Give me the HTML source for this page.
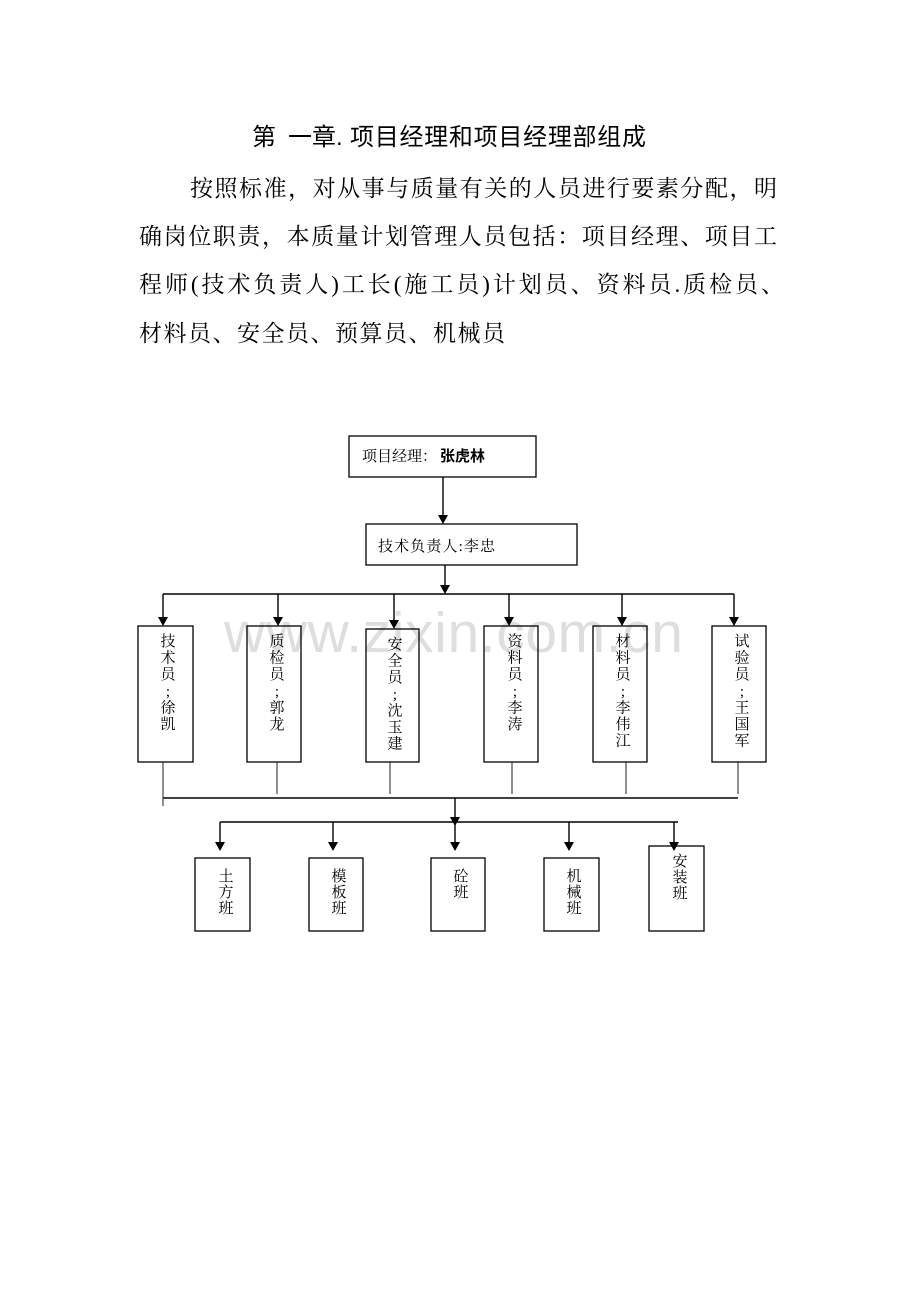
<!DOCTYPE html>
<html>
<head>
<meta charset="utf-8">
<style>
  html, body { margin: 0; padding: 0; background: #fff; }
  body { width: 920px; height: 1302px; overflow: hidden; }
  svg { display: block; }
  .serif { font-family: "Liberation Serif", "Noto Serif CJK SC", serif; }
  .sans { font-family: "Liberation Sans", "Noto Sans CJK SC", sans-serif; }
</style>
</head>
<body>
<svg width="920" height="1302" viewBox="0 0 920 1302" xmlns="http://www.w3.org/2000/svg">
  <rect x="0" y="0" width="920" height="1302" fill="#fff"/>

  <!-- Title -->
  <g class="sans" font-size="24" font-weight="400" fill="#000">
    <text x="252" y="145">第</text>
    <text x="288" y="145">一章.</text>
    <text x="350" y="145" textLength="296" lengthAdjust="spacing">项目经理和项目经理部组成</text>
  </g>

  <!-- Paragraph -->
  <g class="serif" font-size="23" fill="#000">
    <text x="190" y="196" textLength="587" lengthAdjust="spacing">按照标准，对从事与质量有关的人员进行要素分配，明</text>
    <text x="139" y="244" textLength="638" lengthAdjust="spacing">确岗位职责，本质量计划管理人员包括：项目经理、项目工</text>
    <text x="139" y="292" textLength="645" lengthAdjust="spacing">程师(技术负责人)工长(施工员)计划员、资料员.质检员、</text>
    <text x="139" y="341" textLength="366" lengthAdjust="spacing">材料员、安全员、预算员、机械员</text>
  </g>

  <!-- Watermark -->
  <text x="224" y="652" font-family="Liberation Sans, sans-serif" font-size="57" fill="#dedede" textLength="459" lengthAdjust="spacing">www.zixin.com.cn</text>

  <!-- Boxes -->
  <g fill="none" stroke="#000" stroke-width="1.3">
    <rect x="349" y="436" width="187" height="41"/>
    <rect x="366" y="524" width="211" height="41"/>

    <rect x="138" y="626" width="55" height="136"/>
    <rect x="247" y="626" width="54" height="136"/>
    <rect x="366" y="629" width="53" height="133"/>
    <rect x="484" y="626" width="54" height="136"/>
    <rect x="593" y="626" width="54" height="136"/>
    <rect x="712" y="626" width="54" height="136"/>

    <rect x="195" y="858" width="55" height="73"/>
    <rect x="309" y="858" width="54" height="73"/>
    <rect x="431" y="858" width="54" height="73"/>
    <rect x="544" y="858" width="55" height="73"/>
    <rect x="649" y="846" width="55" height="85"/>
  </g>

  <!-- Connector lines -->
  <g stroke="#000" stroke-width="1.4" fill="none">
    <line x1="443" y1="477" x2="443" y2="515"/>
    <line x1="445" y1="565" x2="445" y2="585"/>
    <line x1="163" y1="594" x2="734" y2="594"/>
    <line x1="163" y1="594" x2="163" y2="617"/>
    <line x1="278" y1="594" x2="278" y2="617"/>
    <line x1="394" y1="594" x2="394" y2="620"/>
    <line x1="509" y1="594" x2="509" y2="617"/>
    <line x1="622" y1="594" x2="622" y2="617"/>
    <line x1="734" y1="594" x2="734" y2="617"/>
    <line x1="163" y1="798" x2="738" y2="798"/>
    <line x1="455" y1="798" x2="455" y2="842"/>
    <line x1="220" y1="822" x2="678" y2="822"/>
    <line x1="220" y1="822" x2="220" y2="842"/>
    <line x1="333" y1="822" x2="333" y2="842"/>
    <line x1="569" y1="822" x2="569" y2="842"/>
    <line x1="674" y1="822" x2="674" y2="842"/>
  </g>
  <g stroke="#333" stroke-width="1.1" fill="none">
    <line x1="163" y1="762" x2="163" y2="806"/>
    <line x1="277" y1="762" x2="277" y2="794"/>
    <line x1="390" y1="762" x2="390" y2="794"/>
    <line x1="512" y1="762" x2="512" y2="794"/>
    <line x1="626" y1="762" x2="626" y2="794"/>
    <line x1="738" y1="762" x2="738" y2="794"/>
  </g>

  <!-- Arrowheads -->
  <g fill="#000">
    <polygon points="438,515 448,515 443,524"/>
    <polygon points="440,585 450,585 445,594"/>
    <polygon points="158,617 168,617 163,626"/>
    <polygon points="273,617 283,617 278,626"/>
    <polygon points="389,620 399,620 394,629"/>
    <polygon points="504,617 514,617 509,626"/>
    <polygon points="617,617 627,617 622,626"/>
    <polygon points="729,617 739,617 734,626"/>
    <polygon points="450,817 460,817 455,826"/>
    <polygon points="450,842 460,842 455,851"/>
    <polygon points="215,842 225,842 220,851"/>
    <polygon points="328,842 338,842 333,851"/>
    <polygon points="564,842 574,842 569,851"/>
    <polygon points="669,842 679,842 674,851"/>
  </g>

  <!-- Box labels -->
  <g class="serif" font-size="15" fill="#000">
    <text x="362" y="461">项目经理：<tspan font-weight="bold" font-family="Liberation Sans, Noto Sans CJK SC, sans-serif" dx="3">张虎林</tspan></text>
    <text x="378" y="551" textLength="117" lengthAdjust="spacing">技术负责人:李忠</text>
  </g>

  <!-- Vertical labels, row 1 -->
  <g class="serif" font-size="15" fill="#000" text-anchor="middle">
    <text x="168" y="646">技</text>
    <text x="168" y="662.6">术</text>
    <text x="168" y="679.2">员</text>
    <text x="168" y="695.8">;</text>
    <text x="168" y="712.4">徐</text>
    <text x="168" y="729">凯</text>

    <text x="277" y="646">质</text>
    <text x="277" y="662.6">检</text>
    <text x="277" y="679.2">员</text>
    <text x="277" y="695.8">;</text>
    <text x="277" y="712.4">郭</text>
    <text x="277" y="729">龙</text>

    <text x="395" y="649">安</text>
    <text x="395" y="665.6">全</text>
    <text x="395" y="682.2">员</text>
    <text x="395" y="698.8">;</text>
    <text x="395" y="715.4">沈</text>
    <text x="395" y="732">玉</text>
    <text x="395" y="748.6">建</text>

    <text x="515" y="646">资</text>
    <text x="515" y="662.6">料</text>
    <text x="515" y="679.2">员</text>
    <text x="515" y="695.8">;</text>
    <text x="515" y="712.4">李</text>
    <text x="515" y="729">涛</text>

    <text x="623" y="646">材</text>
    <text x="623" y="662.6">料</text>
    <text x="623" y="679.2">员</text>
    <text x="623" y="695.8">;</text>
    <text x="623" y="712.4">李</text>
    <text x="623" y="729">伟</text>
    <text x="623" y="745.6">江</text>

    <text x="742" y="646">试</text>
    <text x="742" y="662.6">验</text>
    <text x="742" y="679.2">员</text>
    <text x="742" y="695.8">;</text>
    <text x="742" y="712.4">王</text>
    <text x="742" y="729">国</text>
    <text x="742" y="745.6">军</text>
  </g>

  <!-- Vertical labels, row 2 -->
  <g class="serif" font-size="15" fill="#000" text-anchor="middle">
    <text x="226" y="881">土</text>
    <text x="226" y="897">方</text>
    <text x="226" y="913">班</text>

    <text x="339" y="881">模</text>
    <text x="339" y="897">板</text>
    <text x="339" y="913">班</text>

    <text x="461" y="881">砼</text>
    <text x="461" y="897">班</text>

    <text x="574" y="881">机</text>
    <text x="574" y="897">械</text>
    <text x="574" y="913">班</text>

    <text x="680" y="866">安</text>
    <text x="680" y="882">装</text>
    <text x="680" y="898">班</text>
  </g>
</svg>
</body>
</html>
